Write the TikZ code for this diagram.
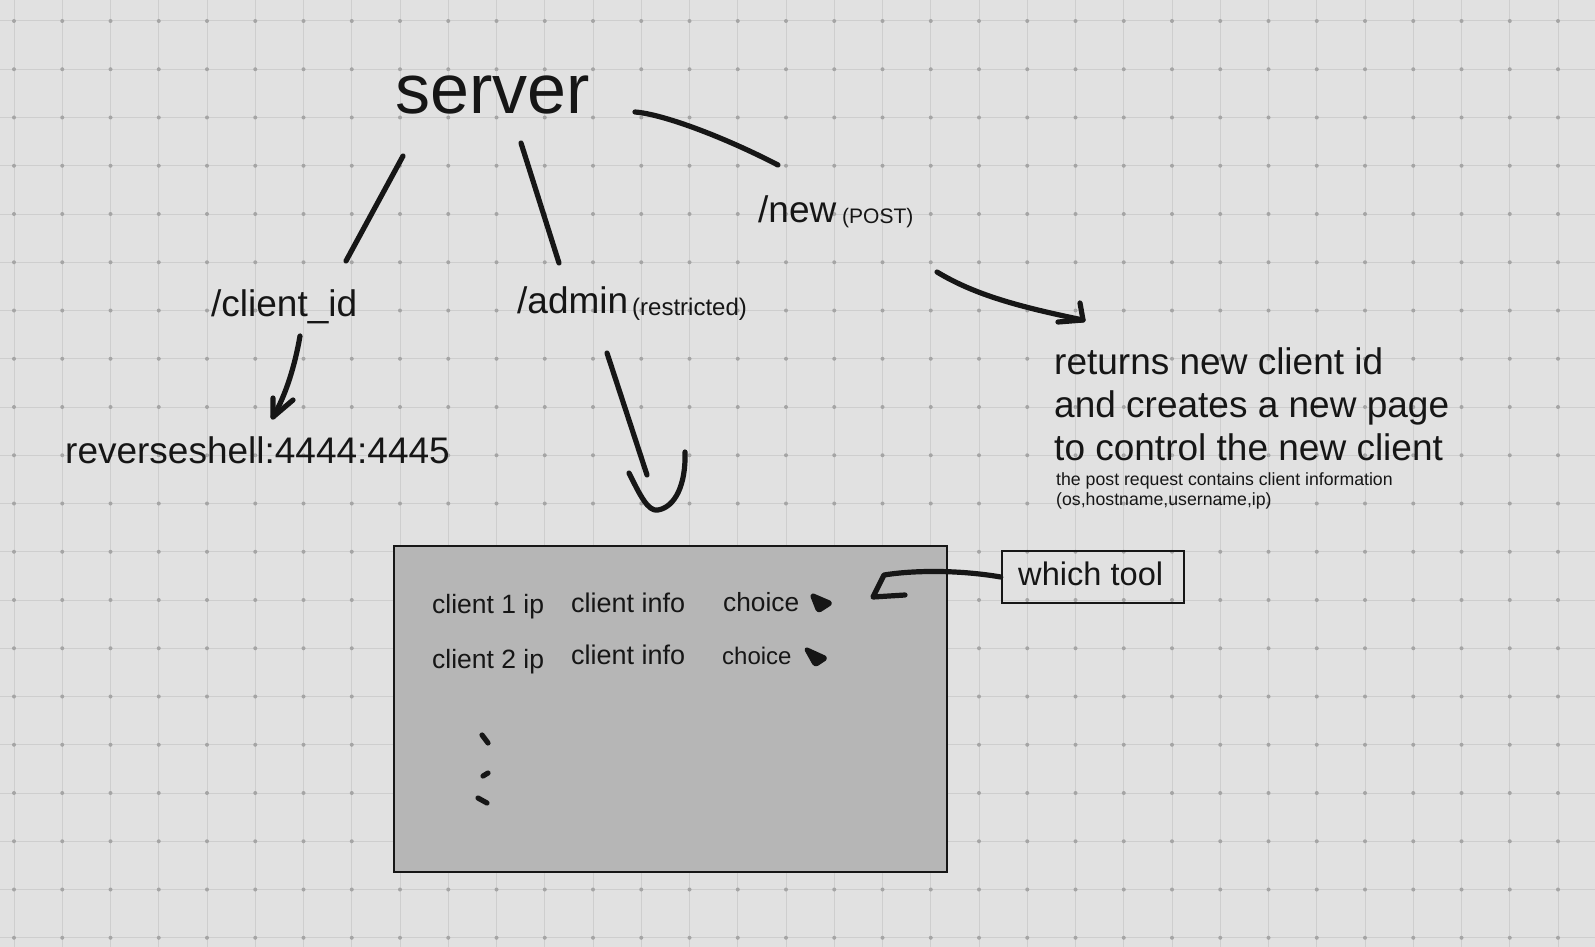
\documentclass[tikz,border=0pt]{standalone}
\usepackage{fontspec}
\setmainfont{Liberation Sans}
\definecolor{paper}{RGB}{225,225,225}
\definecolor{gridline}{RGB}{206,206,206}
\definecolor{griddot}{RGB}{165,165,165}
\definecolor{ink}{RGB}{22,22,22}
\definecolor{panelgray}{RGB}{182,182,182}
\usetikzlibrary{arrows.meta}
\newcommand{\txtsize}[1]{\fontsize{#1}{#1}\selectfont}
\tikzset{
  pen/.style={line width=5.2pt, draw=ink, line cap=round, line join=round},
  lbl/.style={anchor=base west, inner sep=0pt, text=ink},
}

\begin{document}
\begin{tikzpicture}[x=1pt, y=-1pt]
  % Paper and grid
  \useasboundingbox (0,0) rectangle (1595,947);
  \fill[paper] (0,0) rectangle (1595,947);
  \foreach \i in {0,...,32}
    \draw[gridline, line width=1pt] ({14+48.25*\i},0) -- ({14+48.25*\i},947);
  \foreach \j in {0,...,19}
    \draw[gridline, line width=1pt] (0,{21+48.25*\j}) -- (1595,{21+48.25*\j});
  \foreach \i in {0,...,32}
    \foreach \j in {0,...,19}
      \fill[griddot] ({14+48.25*\i},{21+48.25*\j}) circle (2pt);

  % Server and its routes
  \node[lbl, font=\txtsize{70}] (server) at (395,114) {server};
  \node[lbl, font=\txtsize{37}] (clientid) at (211,316) {/client\_id};
  \node[lbl, font=\txtsize{37}] (admin) at (517,313) {/admin};
  \node[lbl, font=\txtsize{24}] (restricted) at (632,315) {(restricted)};
  \node[lbl, font=\txtsize{37}] (new) at (758,222) {/new};
  \node[lbl, font=\txtsize{21}] (post) at (842,223) {(POST)};

  \coordinate (s1) at (403,156);
  \coordinate (c1) at (346,261);
  \coordinate (s2) at (521,143);
  \coordinate (a1) at (559,263);
  \coordinate (s3) at (635,112);
  \coordinate (n1) at (778,165);
  \draw[pen] (s1) -- (c1);
  \draw[pen] (s2) -- (a1);
  \draw[pen] (s3) .. controls (662,114) and (722,136) .. (n1);

  % /client_id leads to the shell
  \node[lbl, font=\txtsize{37}] (shell) at (65,463) {reverseshell:4444:4445};
  \coordinate (c2) at (300,336);
  \coordinate (c3) at (273,417);
  \draw[pen] (c2) .. controls (295,365) and (286,395) .. (c3);
  \draw[pen] (273,398) -- (c3) -- (293,400);

  % /new returns a client id
  \node[lbl, font=\txtsize{37}] (ret1) at (1054,374) {returns new client id};
  \node[lbl, font=\txtsize{37}] (ret2) at (1054,417) {and creates a new page};
  \node[lbl, font=\txtsize{37}] (ret3) at (1054,460) {to control the new client};
  \node[lbl, font=\txtsize{17.7}] (note1) at (1056,485) {the post request contains client information};
  \node[lbl, font=\txtsize{17.7}] (note2) at (1056,505) {(os,hostname,username,ip)};
  \coordinate (n2) at (937,272);
  \coordinate (n3) at (1083,320);
  \draw[pen] (n2) .. controls (975,295) and (1020,307) .. (n3);
  \draw[pen] (1080,303) -- (n3) -- (1058,322);

  % /admin opens the panel
  \coordinate (a2) at (607,353);
  \coordinate (a3) at (647,475);
  \draw[pen] (a2) -- (a3);
  \draw[pen] (629,473) .. controls (640,495) and (648,512) .. (658,510)
    .. controls (675,507) and (686,485) .. (685,452);

  % Admin panel
  \node[draw=ink, fill=panelgray, line width=2.5pt, minimum width=553pt,
    minimum height=326pt, inner sep=0pt] (panel) at (670.5,709) {};
  \node[lbl, font=\txtsize{26.5}] (ip1) at (432,613) {client 1 ip};
  \node[lbl, font=\txtsize{26.5}] (ip2) at (432,668) {client 2 ip};
  \node[lbl, font=\txtsize{27}] (info1) at (571,612) {client info};
  \node[lbl, font=\txtsize{27}] (info2) at (571,664) {client info};
  \node[lbl, font=\txtsize{26.3}] (choice1) at (723,611) {choice};
  \node[lbl, font=\txtsize{24}] (choice2) at (722,664) {choice};
  \filldraw[ink, line width=3pt, line join=round, rounded corners=3pt]
    (811,594) -- (832,603) -- (818,612) -- cycle;
  \filldraw[ink, line width=3pt, line join=round, rounded corners=3pt]
    (805,648) -- (827,658) -- (815,666) -- cycle;
  \draw[pen] (482,735) -- (488,743);
  \draw[pen] (483,776) -- (488,773);
  \draw[pen] (478,798) -- (487,803);

  % Tool hint
  \node[lbl, font=\txtsize{32.6}] (tooltxt) at (1018,585) {which tool};
  \node[draw=ink, line width=2.5pt, minimum width=182pt, minimum height=52pt,
    inner sep=0pt] (tool) at (1093,577) {};
  \coordinate (t1) at (884,575);
  \coordinate (t2) at (873,597);
  \draw[pen] (tool.west) .. controls (960,570) and (915,570) .. (t1) -- (t2) -- (905,595);
\end{tikzpicture}
\end{document}
